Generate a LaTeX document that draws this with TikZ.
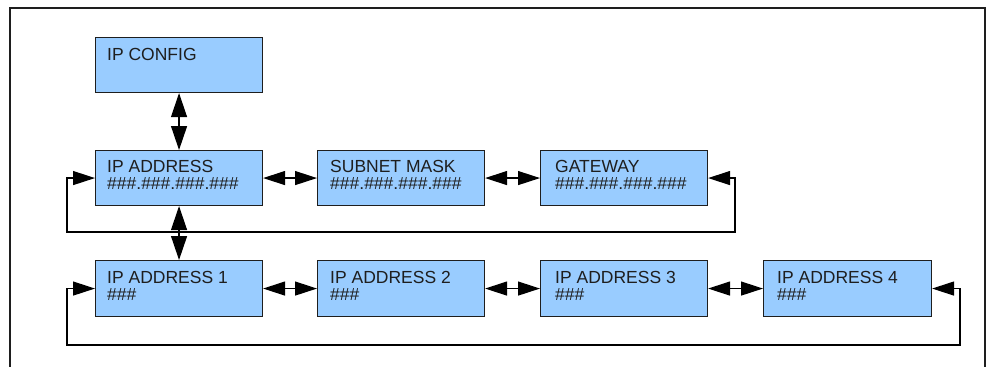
\documentclass[tikz,border=0pt]{standalone}
\usepackage{fontspec}
\setmainfont{Liberation Sans}
\usetikzlibrary{arrows.meta,calc}
\definecolor{boxblue}{HTML}{99CCFF}
\definecolor{ink}{HTML}{1E1E1E}
\tikzset{
  box/.style={draw=ink, line width=1.1pt, fill=boxblue, rectangle, anchor=north west,
    minimum width=167pt, minimum height=56pt, inner sep=0pt},
  lbl/.style={anchor=base west, inner sep=0pt, text=ink,
    font=\fontsize{17.5}{18}\selectfont},
  dblh/.style={draw=black, line width=1.2pt,
    {Triangle[length=22pt 0,width=14pt 0]}-{Triangle[length=22pt 0,width=14pt 0]}},
  dblv/.style={draw=black, line width=1.2pt,
    {Triangle[length=24pt 0,width=16pt 0]}-{Triangle[length=24pt 0,width=16pt 0]}},
  frame/.style={draw=ink, line width=1.3pt}
}
\begin{document}
\begin{tikzpicture}[x=1pt,y=-1pt]
\useasboundingbox (0,0) rectangle (989,367);
% frame
\draw[frame] (10,367) -- (10,8) -- (985,8) -- (985,367);
% boxes
\node[box, minimum height=55pt] (ipc) at (95,37) {};
\node[box, minimum height=55pt] (ipa) at (95,150) {};
\node[box, minimum height=55pt] (sm) at (317,150) {};
\node[box, minimum height=55pt] (gw) at (540,150) {};
\node[box] (ip1) at (95,260) {};
\node[box] (ip2) at (317,260) {};
\node[box] (ip3) at (540,260) {};
\node[box, minimum width=168pt] (ip4) at (763,260) {};
% texts
\node[lbl] (tipc) at (107,60) {IP CONFIG};
\node[lbl] (tipa) at (107,172) {IP ADDRESS};
\node[lbl] (tipa2) at (107,189) {\#\#\#.\#\#\#.\#\#\#.\#\#\#};
\node[lbl] (tsm) at (330,172) {SUBNET MASK};
\node[lbl] (tsm2) at (330,189) {\#\#\#.\#\#\#.\#\#\#.\#\#\#};
\node[lbl] (tgw) at (555,172) {GATEWAY};
\node[lbl] (tgw2) at (555,189) {\#\#\#.\#\#\#.\#\#\#.\#\#\#};
\node[lbl] (tip1) at (107,283) {IP ADDRESS 1};
\node[lbl] (tip1b) at (107,300) {\#\#\#};
\node[lbl] (tip2) at (330,283) {IP ADDRESS 2};
\node[lbl] (tip2b) at (330,300) {\#\#\#};
\node[lbl] (tip3) at (555,283) {IP ADDRESS 3};
\node[lbl] (tip3b) at (555,300) {\#\#\#};
\node[lbl] (tip4) at (777,283) {IP ADDRESS 4};
\node[lbl] (tip4b) at (777,300) {\#\#\#};
% vertical arrows
\draw[dblv] (ipc.south) -- (ipa.north);
\draw[dblv] (ipa.south) -- (ip1.north);
% horizontal arrows
\draw[dblh] (ipa.east) -- (sm.west);
\draw[dblh] (sm.east) -- (gw.west);
\draw[dblh] (ip1.east) -- (ip2.west);
\draw[dblh] (ip2.east) -- (ip3.west);
\draw[dblh] (ip3.east) -- (ip4.west);
% loops
\coordinate (l1) at (67,232);
\coordinate (r1) at (735,232);
\draw[dblh] (ipa.west) -- (ipa.west -| l1) -- (l1) -- (r1) -- (gw.east -| r1) -- (gw.east);
\coordinate (l2) at (67,345);
\coordinate (r2) at (960,345);
\draw[dblh] (ip1.west) -- (ip1.west -| l2) -- (l2) -- (r2) -- (ip4.east -| r2) -- (ip4.east);
\end{tikzpicture}
\end{document}
